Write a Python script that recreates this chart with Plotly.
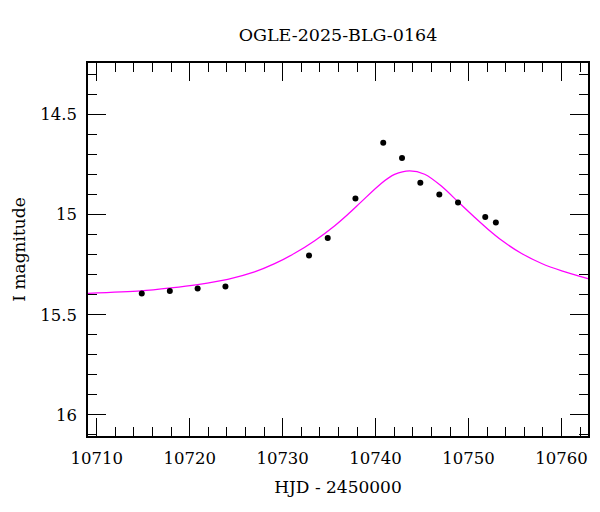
import plotly.graph_objects as go

# Observed photometry (HJD - 2450000, I magnitude)
obs_hjd = [10714.85, 10717.87, 10720.86, 10723.85, 10732.84, 10734.85, 10737.83,
           10740.82, 10742.84, 10744.81, 10746.85, 10748.86, 10751.79, 10752.93]
obs_mag = [15.394, 15.381, 15.369, 15.359, 15.204, 15.116, 14.919,
           14.640, 14.717, 14.841, 14.899, 14.939, 15.011, 15.039]

# Model curve
model_hjd = [10709.0, 10714.75, 10717.98, 10720.86, 10724.10, 10726.98, 10729.14,
             10731.29, 10733.45, 10735.61, 10737.00, 10738.45, 10740.60, 10742.04,
             10743.66, 10745.27, 10747.07, 10748.94, 10750.67, 10752.11, 10753.55,
             10755.70, 10757.86, 10760.02, 10762.84]
model_mag = [15.393, 15.381, 15.366, 15.349, 15.323, 15.286, 15.245,
             15.193, 15.130, 15.055, 14.999, 14.936, 14.844, 14.799,
             14.781, 14.798, 14.857, 14.939, 15.014, 15.074, 15.128,
             15.194, 15.244, 15.281, 15.320]

x_ticks = [10710, 10720, 10730, 10740, 10750, 10760]
y_ticks = [14.5, 15.0, 15.5, 16.0]
y_tick_labels = ["14.5", "15", "15.5", "16"]

FONT = "DejaVu Serif"
W, H = 592, 504  # page has an 8px body margin

fig = go.Figure()
fig.add_trace(go.Scatter(x=model_hjd, y=model_mag, mode="lines",
                         line=dict(color="#ff00ff", width=1.3, shape="spline", smoothing=0.8),
                         hoverinfo="skip", showlegend=False))
fig.add_trace(go.Scatter(x=obs_hjd, y=obs_mag, mode="markers",
                         marker=dict(color="black", size=6), showlegend=False))

fig.update_layout(
    width=W, height=H,
    margin=dict(l=80, r=12, t=55, b=76, autoexpand=False),
    paper_bgcolor="white", plot_bgcolor="white",
    font=dict(family=FONT, color="black", size=16),
    title=dict(text="OGLE-2025-BLG-0164", x=(80 + 580) / 2 / W, xanchor="center",
               y=1 - 27 / H, yanchor="middle", font=dict(family=FONT, size=17.5)),
    showlegend=False,
)
fig.update_xaxes(
    range=[10709.07, 10762.84], tickvals=x_ticks, ticktext=[str(v) for v in x_ticks],
    ticks="inside", ticklen=18, tickwidth=1, tickcolor="black",
    showline=True, linecolor="black", linewidth=1.5, mirror="allticks",
    showgrid=False, zeroline=False, ticklabelstandoff=6,
    minor=dict(ticks="inside", dtick=2, tick0=10710, ticklen=9, tickwidth=1, tickcolor="black", showgrid=False),
    title=dict(text="HJD - 2450000", standoff=15, font=dict(family=FONT, size=17)),
    tickfont=dict(family=FONT, size=16.5),
)
fig.update_yaxes(
    range=[16.106, 14.242], tickvals=y_ticks, ticktext=y_tick_labels,
    ticks="inside", ticklen=18, tickwidth=1, tickcolor="black",
    showline=True, linecolor="black", linewidth=1.5, mirror="allticks",
    showgrid=False, zeroline=False, ticklabelstandoff=6,
    minor=dict(ticks="inside", dtick=0.1, tick0=14.0, ticklen=9, tickwidth=1, tickcolor="black", showgrid=False),
    title=dict(text="I magnitude", standoff=10, font=dict(family=FONT, size=17)),
    tickfont=dict(family=FONT, size=16.5),
)

fig.write_html("out.html")
